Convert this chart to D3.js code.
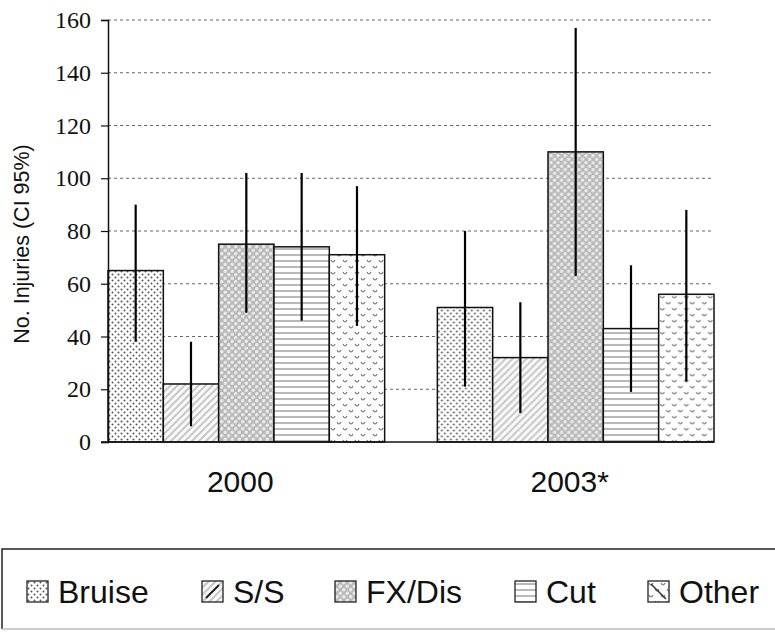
<!DOCTYPE html>
<html>
<head>
<meta charset="utf-8">
<script src="https://cdn.jsdelivr.net/npm/d3@7"></script>
<style>
  html, body { margin: 0; padding: 0; background: #fff; }
  svg { display: block; }
</style>
</head>
<body>
<script>
// Injury counts per category, with 95% confidence intervals
const years = ["2000", "2003*"];
const categories = ["Bruise", "S/S", "FX/Dis", "Cut", "Other"];
const values2000 = [65, 22, 75, 74, 71];
const values2003 = [51, 32, 110, 43, 56];
const ciLow2000  = [38, 6, 49, 46, 44];
const ciHigh2000 = [90, 38, 102, 102, 97];
const ciLow2003  = [21, 11, 63, 19, 23];
const ciHigh2003 = [80, 53, 157, 67, 88];
const yTicks = [0, 20, 40, 60, 80, 100, 120, 140, 160];
const yLabel = "No. Injuries (CI 95%)";

const W = 775, H = 633;
const margin = { left: 108, right: 61, top: 20, bottom: 191 };

const svg = d3.select("body").append("svg").attr("width", W).attr("height", H);

// ---- fill patterns for each category ----
const defs = svg.append("defs");
function pat(id, size) {
  return defs.append("pattern").attr("id", id)
    .attr("patternUnits", "userSpaceOnUse").attr("width", size).attr("height", size);
}
// Bruise: scattered dots
{
  const p = pat("p-bruise", 6);
  p.append("rect").attr("width", 6).attr("height", 6).attr("fill", "#fff");
  p.append("circle").attr("cx", 1.5).attr("cy", 1.5).attr("r", 1).attr("fill", "#555");
  p.append("circle").attr("cx", 4.5).attr("cy", 4.5).attr("r", 1).attr("fill", "#555");
}
// S/S: light diagonal hatch
{
  const p = pat("p-ss", 7);
  p.append("rect").attr("width", 7).attr("height", 7).attr("fill", "#fafafa");
  p.append("path").attr("d", "M-1,8 L8,-1 M-1,1 L1,-1 M6,8 L8,6")
    .attr("stroke", "#c8c8c8").attr("stroke-width", 2);
}
// FX/Dis: grey lattice with light spots
{
  const p = pat("p-fx", 7);
  p.append("rect").attr("width", 7).attr("height", 7).attr("fill", "#b8b8b8");
  p.append("circle").attr("cx", 1.75).attr("cy", 1.75).attr("r", 1.8).attr("fill", "#e8e8e8");
  p.append("circle").attr("cx", 5.25).attr("cy", 5.25).attr("r", 1.8).attr("fill", "#e8e8e8");
}
// Cut: horizontal lines
{
  const p = pat("p-cut", 6);
  p.append("rect").attr("width", 6).attr("height", 6).attr("fill", "#fff");
  p.append("line").attr("x1", 0).attr("x2", 6).attr("y1", 3).attr("y2", 3)
    .attr("stroke", "#8a8a8a").attr("stroke-width", 1.2);
}
// Other: small wave marks
{
  const p = pat("p-other", 12);
  p.append("rect").attr("width", 12).attr("height", 12).attr("fill", "#fff");
  p.append("path").attr("d", "M1,2 Q3,6 5,2 M7,8 Q9,12 11,8")
    .attr("stroke", "#777").attr("stroke-width", 1.2).attr("fill", "none");
}
const fills = ["url(#p-bruise)", "url(#p-ss)", "url(#p-fx)", "url(#p-cut)", "url(#p-other)"];

// ---- scales ----
const x0 = d3.scaleBand().domain(years)
  .range([margin.left, W - margin.right]).paddingInner(0.16).paddingOuter(0);
const x1 = d3.scaleBand().domain(categories).range([0, x0.bandwidth()]).padding(0);
const y = d3.scaleLinear().domain([0, 160]).range([H - margin.bottom, margin.top]);

// ---- gridlines ----
svg.append("g").selectAll("line").data(yTicks.filter(d => d > 0)).join("line")
  .attr("x1", margin.left).attr("x2", W - margin.right)
  .attr("y1", d => y(d)).attr("y2", d => y(d))
  .attr("stroke", "#666").attr("stroke-width", 1.2).attr("stroke-dasharray", "3,3");

// ---- bars ----
const rows = years.map((yr, i) => ({
  year: yr,
  vals: categories.map((c, j) => ({
    cat: c, j,
    v: i === 0 ? values2000[j] : values2003[j],
    lo: i === 0 ? ciLow2000[j] : ciLow2003[j],
    hi: i === 0 ? ciHigh2000[j] : ciHigh2003[j]
  }))
}));

const groups = svg.append("g").selectAll("g").data(rows).join("g")
  .attr("transform", d => `translate(${x0(d.year)},0)`);

groups.selectAll("rect").data(d => d.vals).join("rect")
  .attr("x", d => x1(d.cat)).attr("width", x1.bandwidth())
  .attr("y", d => y(d.v)).attr("height", d => y(0) - y(d.v))
  .attr("fill", d => fills[d.j]).attr("stroke", "#111").attr("stroke-width", 1.5);

// confidence interval lines
groups.selectAll("line.ci").data(d => d.vals).join("line").attr("class", "ci")
  .attr("x1", d => x1(d.cat) + x1.bandwidth() / 2).attr("x2", d => x1(d.cat) + x1.bandwidth() / 2)
  .attr("y1", d => y(d.lo)).attr("y2", d => y(d.hi))
  .attr("stroke", "#000").attr("stroke-width", 2.2);

// ---- axes ----
const yAxis = d3.axisLeft(y).tickValues(yTicks).tickSize(7).tickPadding(10);
const gy = svg.append("g").attr("transform", `translate(${margin.left},0)`).call(yAxis);
gy.select(".domain").attr("stroke", "#111").attr("stroke-width", 1.5);
gy.selectAll(".tick line").attr("stroke", "#111").attr("stroke-width", 1.2);
gy.selectAll(".tick text").attr("font-family", "'Liberation Serif', 'Times New Roman', serif")
  .attr("font-size", 24).attr("fill", "#111");

// baseline
svg.append("line").attr("x1", margin.left - 7).attr("x2", W - margin.right)
  .attr("y1", y(0)).attr("y2", y(0)).attr("stroke", "#111").attr("stroke-width", 1.5);

// category (year) labels
svg.append("g").selectAll("text").data(years).join("text")
  .attr("x", d => x0(d) + x0.bandwidth() / 2 - 6).attr("y", 492)
  .attr("text-anchor", "middle")
  .attr("font-family", "'Liberation Sans', Arial, sans-serif").attr("font-size", 30)
  .attr("fill", "#111").text(d => d);

// y-axis title
svg.append("text")
  .attr("transform", `translate(29,244) rotate(-90)`)
  .attr("text-anchor", "middle")
  .attr("font-family", "'Liberation Sans', Arial, sans-serif").attr("font-size", 21.5)
  .attr("fill", "#111").text(yLabel);

// ---- legend ----
const lg = svg.append("g");
lg.append("path").attr("d", `M${W + 5},549 L2,549 L2,629`)
  .attr("fill", "none").attr("stroke", "#222").attr("stroke-width", 1.5);
lg.append("path").attr("d", `M2,629 L${W + 5},629`)
  .attr("fill", "none").attr("stroke", "#bbb").attr("stroke-width", 1.5);

const legendX = [27, 202, 335, 515, 648];
const items = lg.selectAll("g.item").data(categories).join("g").attr("class", "item")
  .attr("transform", (d, i) => `translate(${legendX[i]},581)`);
items.append("rect").attr("width", 21).attr("height", 21)
  .attr("fill", (d, i) => fills[i]).attr("stroke", "#222").attr("stroke-width", 1.3);
// extra strokes that make the small swatches readable
items.filter((d, i) => i === 1).append("path").attr("d", "M4,17 L17,4")
  .attr("stroke", "#222").attr("stroke-width", 2);
items.filter((d, i) => i === 4).append("path").attr("d", "M3,3 L18,18")
  .attr("stroke", "#333").attr("stroke-width", 1.5);
items.append("text").attr("x", 31).attr("y", 22)
  .attr("font-family", "'Liberation Sans', Arial, sans-serif").attr("font-size", 32)
  .attr("fill", "#111").text(d => d);
</script>
</body>
</html>
